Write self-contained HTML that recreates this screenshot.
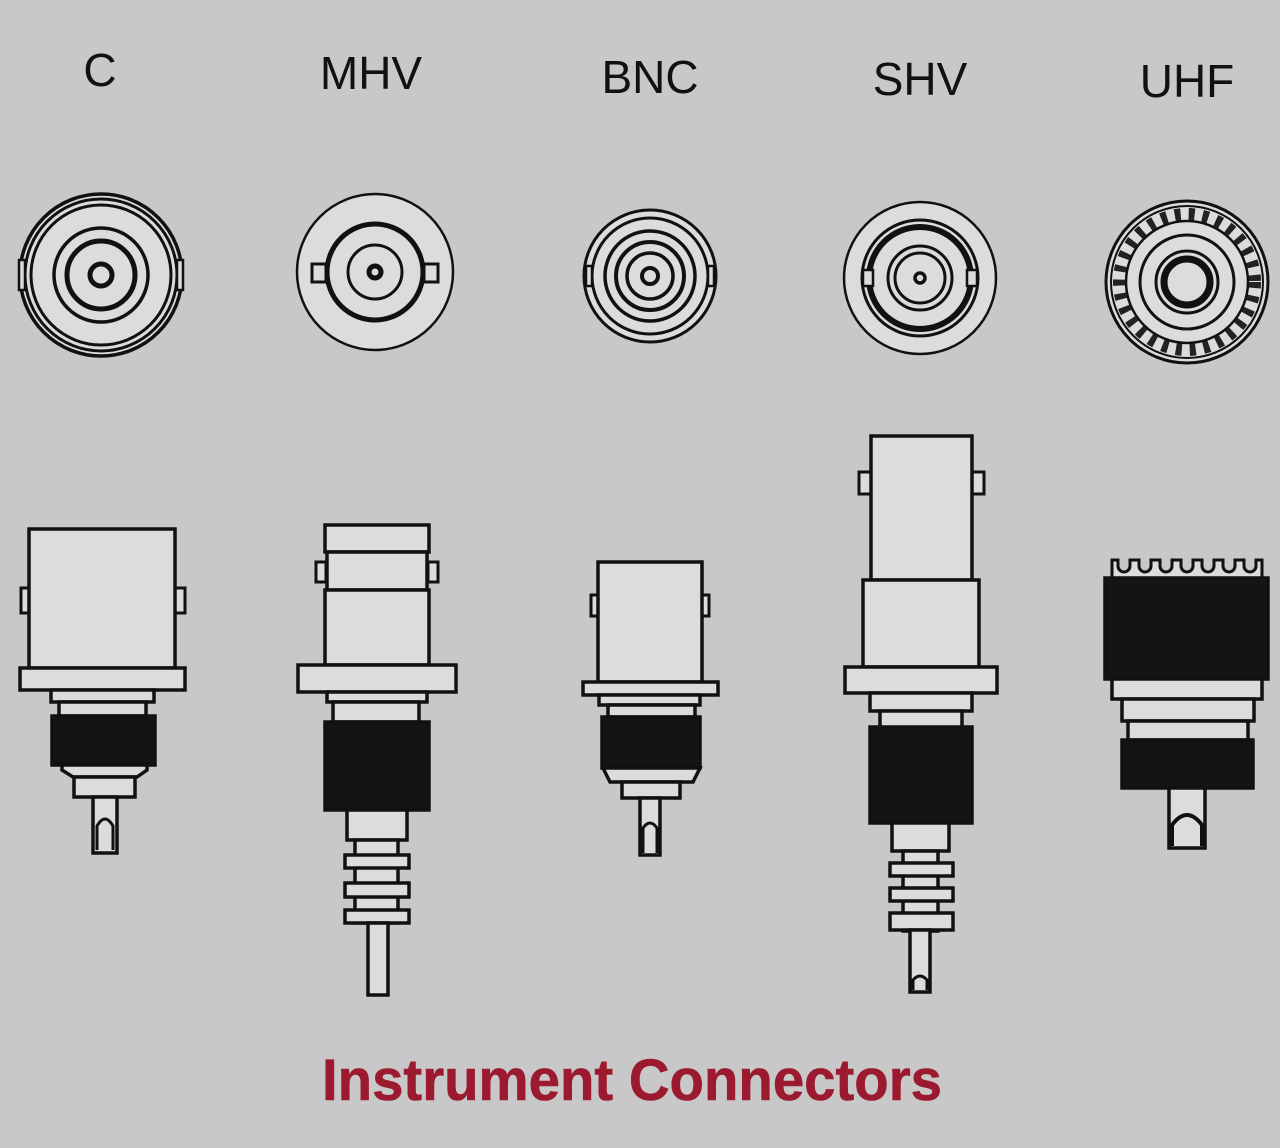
<!DOCTYPE html>
<html><head><meta charset="utf-8"><style>
html,body{margin:0;padding:0;background:#c8c8c8;}
svg{display:block}
</style></head><body>
<svg width="1280" height="1148" viewBox="0 0 1280 1148" xmlns="http://www.w3.org/2000/svg">
<rect width="1280" height="1148" fill="#c8c8c8"/>
<g font-family="Liberation Sans, sans-serif" font-size="46" fill="#111" text-anchor="middle">
<text x="100" y="86">C</text>
<text x="371" y="89">MHV</text>
<text x="650" y="93">BNC</text>
<text x="920" y="95">SHV</text>
<text x="1187" y="97">UHF</text>
</g>
<text x="322" y="1100" font-family="Liberation Sans, sans-serif" font-weight="600" font-size="58" fill="#9c1a30" stroke="#9c1a30" stroke-width="0.6" textLength="620" lengthAdjust="spacingAndGlyphs">Instrument Connectors</text>

<g fill="#dcdcdc" stroke="#111" stroke-width="3.5">
<!-- C -->
<circle cx="101" cy="275" r="81"/>
<circle cx="101" cy="275" r="76" fill="none" stroke-width="3"/>
<circle cx="101" cy="275" r="70" fill="none" stroke-width="3"/>
<rect x="19" y="260" width="6" height="30" stroke-width="2.5"/>
<rect x="177" y="260" width="6" height="30" stroke-width="2.5"/>
<circle cx="101" cy="275" r="47" fill="none" stroke-width="3.5"/>
<circle cx="101" cy="275" r="34" fill="none" stroke-width="5"/>
<circle cx="101" cy="275" r="11" fill="none" stroke-width="5"/>
<!-- MHV -->
<circle cx="375" cy="272" r="78" stroke-width="2.5"/>
<circle cx="375" cy="272" r="48" fill="none" stroke-width="5"/>
<rect x="312" y="264" width="14" height="18" stroke-width="3"/>
<rect x="424" y="264" width="14" height="18" stroke-width="3"/>
<circle cx="375" cy="272" r="27" fill="none" stroke-width="3"/>
<circle cx="375" cy="272" r="6" fill="none" stroke-width="5"/>
<!-- BNC -->
<circle cx="650" cy="276" r="66" stroke-width="3"/>
<circle cx="650" cy="276" r="58" fill="none" stroke-width="3"/>
<rect x="586" y="266" width="6" height="20" stroke-width="2.5"/>
<rect x="708" y="266" width="6" height="20" stroke-width="2.5"/>
<circle cx="650" cy="276" r="45" fill="none" stroke-width="3.5"/>
<circle cx="650" cy="276" r="34" fill="none" stroke-width="4"/>
<circle cx="650" cy="276" r="23" fill="none" stroke-width="3.5"/>
<circle cx="650" cy="276" r="8" fill="none" stroke-width="4"/>
<!-- SHV -->
<circle cx="920" cy="278" r="76" stroke-width="2.5"/>
<circle cx="920" cy="278" r="58" fill="none" stroke-width="3"/>
<circle cx="920" cy="278" r="51" fill="none" stroke-width="6"/>
<rect x="863" y="270" width="10" height="16" stroke-width="2.5"/>
<rect x="967" y="270" width="10" height="16" stroke-width="2.5"/>
<circle cx="920" cy="278" r="32" fill="none" stroke-width="3"/>
<circle cx="920" cy="278" r="25" fill="none" stroke-width="3"/>
<circle cx="920" cy="278" r="5" fill="none" stroke-width="3.5"/>
<!-- UHF -->
<circle cx="1187" cy="282" r="81" stroke-width="3"/>
<circle cx="1187" cy="282" r="76" fill="none" stroke-width="2"/>
<circle cx="1187" cy="282" r="68" fill="none" stroke="#222" stroke-width="12" stroke-dasharray="6 8"/>
<circle cx="1187" cy="282" r="61" fill="none" stroke-width="2.5"/>
<circle cx="1187" cy="282" r="47" fill="none" stroke-width="3"/>
<circle cx="1187" cy="282" r="31" fill="none" stroke-width="3"/>
<circle cx="1187" cy="282" r="23" fill="none" stroke-width="7"/>

<!-- C side -->
<rect x="21" y="588" width="9" height="25" stroke-width="3"/>
<rect x="175" y="588" width="10" height="25" stroke-width="3"/>
<rect x="29" y="529" width="146" height="139"/>
<rect x="20" y="668" width="165" height="22"/>
<rect x="51" y="690" width="103" height="12"/>
<rect x="59" y="702" width="87" height="14"/>
<rect x="52" y="716" width="103" height="49" fill="#141414"/>
<path d="M62 765 H147 V770 L137 777 H73 L62 770 Z"/>
<rect x="74" y="777" width="61" height="20"/>
<rect x="93" y="797" width="24" height="56"/>
<path d="M97 850 V826 Q105 812 113 826 V850" fill="none" stroke-width="3"/>
<!-- MHV side -->
<rect x="316" y="562" width="10" height="20" stroke-width="3"/>
<rect x="428" y="562" width="10" height="20" stroke-width="3"/>
<rect x="325" y="525" width="104" height="27"/>
<rect x="327" y="552" width="100" height="38"/>
<rect x="325" y="590" width="104" height="75"/>
<rect x="298" y="665" width="158" height="27"/>
<rect x="327" y="692" width="100" height="10"/>
<rect x="333" y="702" width="86" height="20"/>
<rect x="325" y="722" width="104" height="88" fill="#141414"/>
<rect x="347" y="810" width="60" height="30"/>
<rect x="355" y="840" width="43" height="83"/>
<rect x="345" y="855" width="64" height="13"/>
<rect x="345" y="883" width="64" height="14"/>
<rect x="345" y="910" width="64" height="13"/>
<rect x="368" y="923" width="20" height="72"/>
<!-- BNC side -->
<rect x="591" y="595" width="8" height="21" stroke-width="3"/>
<rect x="701" y="595" width="8" height="21" stroke-width="3"/>
<rect x="598" y="562" width="104" height="120"/>
<rect x="583" y="682" width="135" height="13"/>
<rect x="599" y="695" width="101" height="10"/>
<rect x="608" y="705" width="87" height="12"/>
<rect x="602" y="717" width="98" height="51" fill="#141414"/>
<path d="M603 768 H700 L693 782 H610 Z"/>
<rect x="622" y="782" width="58" height="16"/>
<rect x="640" y="798" width="20" height="57"/>
<path d="M643 853 V828 Q650 818 657 828 V853" fill="none" stroke-width="3"/>
<!-- SHV side -->
<rect x="859" y="472" width="13" height="22" stroke-width="3"/>
<rect x="971" y="472" width="13" height="22" stroke-width="3"/>
<rect x="871" y="436" width="101" height="144"/>
<rect x="863" y="580" width="116" height="87"/>
<rect x="845" y="667" width="152" height="26"/>
<rect x="870" y="693" width="102" height="18"/>
<rect x="880" y="711" width="82" height="18"/>
<rect x="870" y="727" width="102" height="96" fill="#141414"/>
<rect x="892" y="823" width="57" height="28"/>
<rect x="903" y="851" width="35" height="80"/>
<rect x="890" y="863" width="63" height="13"/>
<rect x="890" y="888" width="63" height="13"/>
<rect x="890" y="913" width="63" height="17"/>
<rect x="910" y="930" width="20" height="62"/>
<path d="M913 990 V980 Q920 972 927 980 V990" fill="none" stroke-width="3"/>
<!-- UHF side -->
<path d="M1112 580 V560 h6 v6 a6 6 0 0 0 12 0 v-6 h9 v6 a6 6 0 0 0 12 0 v-6 h9 v6 a6 6 0 0 0 12 0 v-6 h9 v6 a6 6 0 0 0 12 0 v-6 h9 v6 a6 6 0 0 0 12 0 v-6 h9 v6 a6 6 0 0 0 12 0 v-6 h9 v6 a6 6 0 0 0 12 0 v-6 h6 V580 Z" stroke-width="3"/>
<rect x="1105" y="578" width="163" height="101" fill="#141414"/>
<rect x="1112" y="679" width="150" height="20"/>
<rect x="1122" y="699" width="132" height="22"/>
<rect x="1128" y="721" width="120" height="19"/>
<rect x="1122" y="740" width="131" height="48" fill="#141414"/>
<rect x="1169" y="788" width="36" height="60"/>
<path d="M1172 846 V825 Q1187 805 1202 825 V846" fill="none" stroke-width="4"/>
</g>
</svg>
</body></html>
